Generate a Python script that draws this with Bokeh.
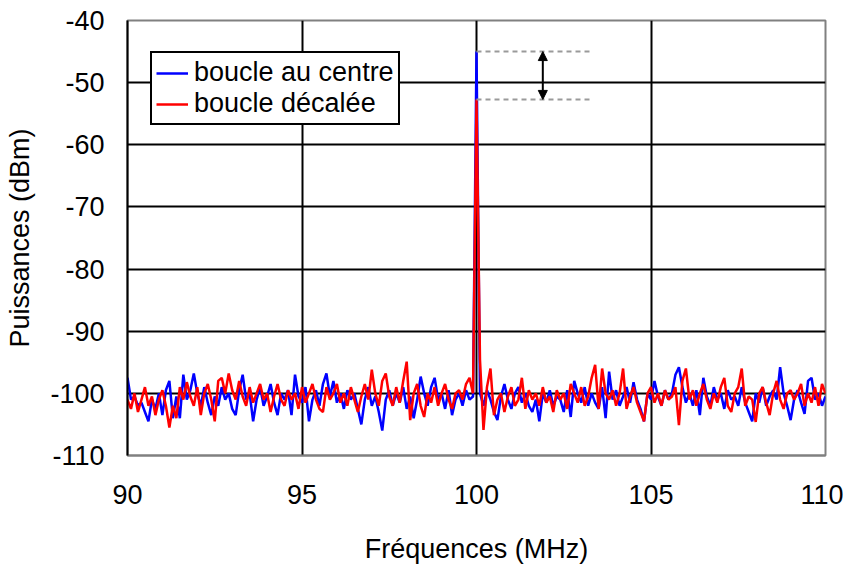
import numpy as np
from bokeh.plotting import figure
from bokeh.models import (Legend, LegendItem, FixedTicker, Arrow, NormalHead, Range1d,
                          ColumnDataSource, PrintfTickFormatter)
from bokeh.embed import file_html
from bokeh.resources import INLINE

# Frequencies (MHz), sampled every 0.1 MHz
freq = np.round(np.arange(0, 201) * 0.1 + 90.0, 1)

# boucle au centre (dBm)
blue = [
    -97.5, -101, -100.5, -102, -101.5, -103, -104.5, -101, -102.5, -100,
    -103.5, -99.5, -98, -104, -100.5, -104, -97, -101, -99.5, -96.8,
    -100, -102, -99, -101.5, -103.5, -100.5, -102, -99, -101, -100,
    -102.5, -103.5, -99.5, -97, -101, -100, -104.5, -101, -99, -102,
    -100.5, -98.5, -101.5, -103.5, -100, -101, -99.5, -103.5, -97, -100.5,
    -101.5, -99, -104.5, -101, -99.5, -102, -98.5, -96.8, -100.5, -98,
    -101.5, -100, -102.5, -99.5, -101, -100, -102.5, -105, -101, -99,
    -102, -100.5, -103, -106, -101, -99.5, -102, -100, -101.5, -99,
    -102.5, -100.5, -104, -101, -97.3, -100, -102, -99, -97.5, -101,
    -100, -102.5, -99.5, -103.5, -101, -100, -102, -99.5, -101, -100.5,
    -45,
    -100, -102, -99.5, -101, -103, -104.3, -100.5, -98.5, -101, -102.5,
    -100, -99, -101.5, -100, -102, -103, -101, -104.5, -100, -101.5,
    -99.5, -102, -100.5, -101, -103, -99.5, -103.8, -98, -100, -101.5,
    -99, -102, -100, -101.5, -102.5, -99, -104, -96.5, -101, -99.5,
    -102, -100.5, -99, -101.5, -98.2, -101, -102.5, -104.5, -100, -101,
    -98, -100.5, -102, -99.5, -101, -100, -97, -95.8, -99, -101.5,
    -100, -102, -99.5, -103.5, -97.5, -100.5, -102, -99, -101, -100,
    -102.5, -99.5, -101, -100.5, -102, -99, -101.5, -103, -104.5, -100,
    -101.5, -99, -102, -100.5, -99.5, -101, -95.8, -100, -102, -104.3,
    -101, -99.5, -101.5, -103.3, -98, -97.5, -101, -100, -102, -100.5,
]

# boucle décalée (dBm)
red = [
    -101, -102.5, -100, -103, -101, -99, -102, -100.5, -103.5, -101,
    -99.5, -102, -105.5, -102, -104, -99, -101, -98.2, -100.5, -102,
    -99, -103.5, -100, -98.5, -101, -104.5, -98, -97.5, -100, -96.8,
    -99.5, -101, -98, -100.5, -102, -99, -101.5, -100, -98.5, -101,
    -100, -103, -100.5, -98.5, -101, -102, -99.5, -101, -100, -102.5,
    -99, -101.5, -100, -98.5, -101, -102.5, -103, -99, -101, -100,
    -98.5, -101.5, -100, -102, -99, -101, -103, -100.5, -98.5, -101,
    -96.2, -100, -102, -98, -96.8, -100.5, -102, -99, -101.5, -98,
    -94.9, -104.3, -100, -98.5, -102, -103.8, -100, -101.5, -99, -102,
    -100, -98.5, -101, -102.5, -100, -99.5, -101, -98.5, -97.5, -100,
    -52.7,
    -94.6, -105.9, -99, -96, -103.5, -101, -100, -103, -100.5, -99,
    -102, -101, -97.5, -102.5, -99.5, -101, -100, -102, -99, -101.5,
    -100.5, -103, -99.5, -101, -100, -102.5, -98.5, -100, -101.5, -99,
    -102, -100.5, -97.5, -95.4, -102.5, -96, -100, -101, -99.5, -102,
    -100, -96, -102.5, -100.5, -99, -101.5, -103, -104.5, -100, -99,
    -101.5, -100, -102, -99.5, -101, -100.5, -99, -105.1, -98, -96,
    -101, -99.5, -102, -100, -98.5, -101, -102.5, -100, -101.5, -99,
    -97.5, -102, -103, -100, -99, -96, -102, -100.5, -101, -104.6,
    -100, -99, -101.5, -103.5, -100, -98, -101, -102.5, -100, -99.5,
    -101, -100, -98.5, -102, -100, -101.5, -99, -102, -98.5, -100,
]

x_ticks = [90, 95, 100, 105, 110]
y_ticks = [-110, -100, -90, -80, -70, -60, -50, -40]

# annotation: difference between the two peaks
peak_centre = -45.0
peak_decalee = -52.7
annot_x0 = 100.0
annot_x1 = 103.3
arrow_x = 101.9

assert len(blue) == 201 and len(red) == 201

FONT = "Liberation Sans"

p = figure(frame_width=698, frame_height=435, output_backend="svg", toolbar_location=None,
           x_range=Range1d(90, 110), y_range=Range1d(-110, -40),
           min_border_left=127, min_border_top=20, min_border_right=18, min_border_bottom=100,
           background_fill_color="white", border_fill_color="white")

p.outline_line_color = "#808080"
p.outline_line_width = 2

p.xgrid.ticker = FixedTicker(ticks=[90, 95, 100, 105])
p.ygrid.ticker = FixedTicker(ticks=[-100, -90, -80, -70, -60, -50, -40])
for g in (p.xgrid, p.ygrid):
    g.grid_line_color = "black"
    g.grid_line_width = 2

p.xaxis.ticker = FixedTicker(ticks=x_ticks)
p.yaxis.ticker = FixedTicker(ticks=y_ticks)
for ax in (p.xaxis, p.yaxis):
    ax.formatter = PrintfTickFormatter(format="%d")
    ax.major_tick_in = 0
    ax.major_tick_out = 0
    ax.minor_tick_in = 0
    ax.minor_tick_out = 0
    ax.major_label_text_font = FONT
    ax.major_label_text_font_size = "27px"
    ax.major_label_text_color = "black"
    ax.axis_label_text_font = FONT
    ax.axis_label_text_font_size = "27px"
    ax.axis_label_text_font_style = "normal"
    ax.axis_label_text_color = "black"
p.xaxis.axis_line_color = "#808080"
p.xaxis.axis_line_width = 2
p.yaxis.axis_line_color = "black"
p.yaxis.axis_line_width = 2
p.xaxis.axis_label = "Fréquences (MHz)"
p.yaxis.axis_label = "Puissances (dBm)"
p.xaxis.major_label_standoff = 29
p.xaxis.axis_label_standoff = 27
p.yaxis.major_label_standoff = 23
p.yaxis.axis_label_standoff = 12

src = ColumnDataSource(dict(f=freq, blue=blue, red=red))
rb = p.line("f", "blue", source=src, line_color="#0000ff", line_width=2.5)
rr = p.line("f", "red", source=src, line_color="#ff0000", line_width=2.5)

p.segment(x0=[annot_x0, annot_x0], y0=[peak_centre, peak_decalee],
          x1=[annot_x1, annot_x1], y1=[peak_centre, peak_decalee],
          line_color="#9a9a9a", line_width=2, line_dash="5 4")
p.add_layout(Arrow(start=NormalHead(size=9, fill_color="black", line_color="black"),
                   end=NormalHead(size=9, fill_color="black", line_color="black"),
                   x_start=arrow_x, y_start=peak_decalee, x_end=arrow_x, y_end=peak_centre,
                   line_color="black", line_width=2))

legend = Legend(items=[LegendItem(label="boucle au centre", renderers=[rb]),
                       LegendItem(label="boucle décalée", renderers=[rr])],
                location=(23, 330))
legend.border_line_color = "black"
legend.border_line_width = 2
legend.border_line_alpha = 1
legend.background_fill_alpha = 1
legend.label_text_font = FONT
legend.label_text_font_size = "27px"
legend.label_text_color = "black"
legend.glyph_width = 32
legend.label_standoff = 6
legend.padding = 4
legend.spacing = 0
legend.margin = 0
p.add_layout(legend)

open("out.html", "w").write(file_html(p, INLINE))
